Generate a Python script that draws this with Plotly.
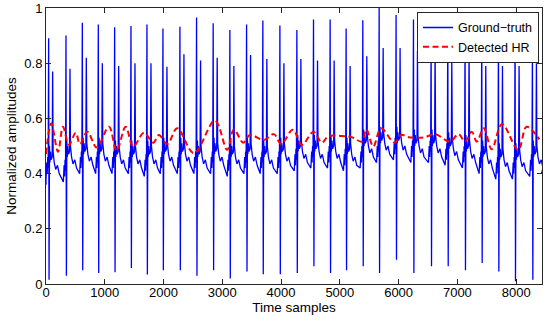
import plotly.graph_objects as go

# ---- data ----
# ground-truth signal: per-beat readings
peak_pos = [45, 340, 618, 890, 1168, 1446, 1718, 1990, 2279, 2562, 2845, 3129, 3413, 3690, 3980,
            4269, 4552, 4835, 5107, 5391, 5669, 5957, 6253, 6553, 6837, 7131, 7415, 7699, 7982, 8277]
main_amp = [0.89, 0.90, 0.947, 0.94, 0.93, 0.935, 0.94, 0.926, 0.932, 0.966, 0.945, 0.92, 0.94, 0.955, 0.937,
            0.92, 0.958, 0.958, 0.926, 0.956, 1.0, 0.975, 0.958, 0.90, 0.958, 0.92, 0.92, 0.92, 0.955, 0.86]
sec_amp = [0.77, 0.78, 0.82, 0.80, 0.79, 0.80, 0.80, 0.787, 0.832, 0.81, 0.82, 0.79, 0.83, 0.815, 0.80,
           0.815, 0.81, 0.81, 0.79, 0.825, 0.855, 0.855, 0.844, 0.85, 0.81, 0.85, 0.79, 0.79, 0.79, 0.80]
trough_amp = [0.015, 0.03, 0.05, 0.04, 0.043, 0.058, 0.034, 0.05, 0.05, 0.03, 0.05, 0.02, 0.045, 0.035, 0.035,
              0.04, 0.064, 0.04, 0.05, 0.064, 0.04, 0.088, 0.04, 0.064, 0.064, 0.05, 0.076, 0.045, 0.01, 0.015]
after_lvl = [0.40, 0.42, 0.43, 0.43, 0.42, 0.42, 0.42, 0.43, 0.43, 0.42, 0.43, 0.42, 0.43, 0.42, 0.43,
             0.44, 0.44, 0.44, 0.43, 0.46, 0.47, 0.47, 0.46, 0.46, 0.45, 0.44, 0.42, 0.41, 0.41, 0.42]
before_lvl = [0.38, 0.37, 0.40, 0.40, 0.40, 0.40, 0.39, 0.40, 0.40, 0.40, 0.40, 0.39, 0.40, 0.40, 0.40,
              0.41, 0.42, 0.42, 0.41, 0.42, 0.44, 0.45, 0.44, 0.44, 0.43, 0.42, 0.40, 0.38, 0.38, 0.39]
start_lvl = 0.36
end_pos = 8430
end_lvl = 0.40

# detected HR: extrema of the dashed curve
hr_x = [0, 90, 204, 289, 391, 505, 578, 703, 862, 1071, 1202, 1355, 1485, 1667, 1825, 1922, 2063, 2233,
        2517, 2874, 3084, 3197, 3356, 3469, 3707, 3878, 4002, 4200, 4354, 4552, 4694, 4807, 5034, 5204,
        5374, 5450, 5570, 5700, 5930, 6040, 6168, 6310, 6451, 6621, 6876, 7019, 7131, 7245, 7330, 7450,
        7583, 7760, 8035, 8178, 8395]
hr_y = [0.471, 0.582, 0.479, 0.570, 0.504, 0.548, 0.507, 0.552, 0.495, 0.570, 0.483, 0.570, 0.498, 0.548,
        0.512, 0.540, 0.507, 0.564, 0.474, 0.592, 0.486, 0.560, 0.512, 0.540, 0.522, 0.543, 0.507, 0.559,
        0.504, 0.552, 0.512, 0.536, 0.536, 0.532, 0.516, 0.560, 0.498, 0.564, 0.512, 0.540, 0.532, 0.530,
        0.532, 0.543, 0.516, 0.543, 0.516, 0.552, 0.516, 0.564, 0.488, 0.580, 0.486, 0.570, 0.524]

x_ticks = [0, 1000, 2000, 3000, 4000, 5000, 6000, 7000, 8000]
y_ticks = [0, 0.2, 0.4, 0.6, 0.8, 1.0]

# ---- build the ground-truth polyline from the per-beat readings ----
gx, gy = [0], [start_lvl]
for i, p in enumerate(peak_pos):
    a, b = after_lvl[i], before_lvl[i]
    pts = [(-45, b), (-32, b + 0.06), (-24, b + 0.02), (-16, b + 0.08), (-8, b + 0.04),
           (0, main_amp[i]), (7, trough_amp[i]), (14, a + 0.10), (22, a + 0.04), (30, a + 0.08),
           (42, a + 0.05), (60, a + 0.06), (68, sec_amp[i]), (76, a + 0.08), (95, a + 0.04),
           (120, a + 0.015), (150, a + 0.03), (180, a)]
    for dx, v in pts:
        xv = p + dx
        if xv < 0:
            continue
        gx.append(xv)
        gy.append(v)
gx.append(end_pos)
gy.append(end_lvl)

font_fam = "Liberation Sans, Arial, Helvetica, sans-serif"

fig = go.Figure()
fig.add_trace(go.Scatter(x=gx, y=gy, mode="lines", name="Ground\u2212truth",
                         line=dict(color="rgb(0,0,255)", width=1.3)))
fig.add_trace(go.Scatter(x=hr_x, y=hr_y, mode="lines", name="Detected HR",
                         line=dict(color="rgb(255,0,0)", width=2, dash="6px,3.5px", shape="spline",
                                   smoothing=1.0)))

axis_common = dict(showline=True, linecolor="#262626", linewidth=1, mirror="ticks",
                   ticks="inside", ticklen=5, tickcolor="#262626", showgrid=False, zeroline=False,
                   tickfont=dict(family=font_fam, size=13, color="black"))

fig.update_layout(
    width=550, height=322,
    margin=dict(l=46, r=8, t=8, b=38),
    paper_bgcolor="white", plot_bgcolor="white",
    font=dict(family=font_fam, color="black"),
    showlegend=True,
    legend=dict(x=0.994, y=0.986, xanchor="right", yanchor="top",
                bgcolor="white", bordercolor="#262626", borderwidth=1,
                font=dict(family=font_fam, size=12.5, color="black"),
                itemwidth=30, tracegroupgap=0),
    xaxis=dict(range=[0, 8440], tickvals=x_ticks, ticktext=[str(v) for v in x_ticks],
               ticklabelstandoff=-4,
               title=dict(text="Time samples", font=dict(size=13.5), standoff=0),
               automargin=False, **axis_common),
    yaxis=dict(range=[0, 1], tickvals=y_ticks, ticktext=["0", "0.2", "0.4", "0.6", "0.8", "1"],
               title=dict(text="Normalized amplitudes", font=dict(size=13.5), standoff=4),
               automargin=False, **axis_common),
)

fig.write_html("out.html", config={"displayModeBar": False},
               post_script="document.body.style.margin='0px';document.body.style.padding='0px';")
